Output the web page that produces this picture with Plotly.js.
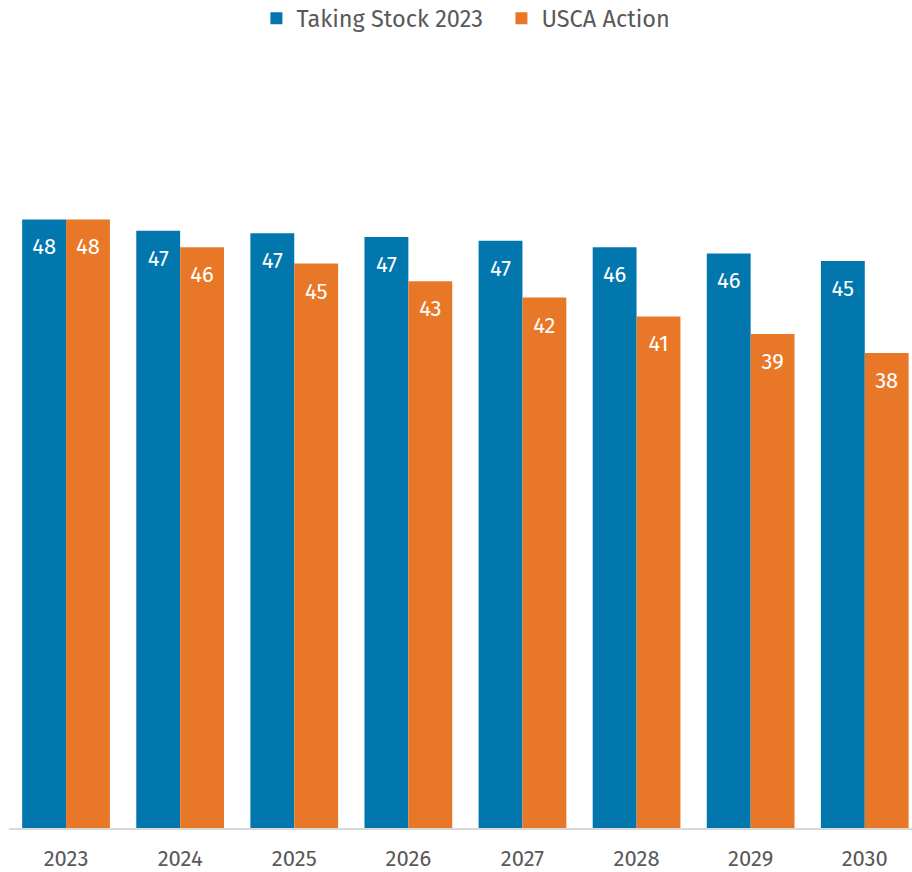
<!DOCTYPE html>
<html>
<head>
<meta charset="utf-8">
<script src="https://cdn.plot.ly/plotly-3.0.1.min.js"></script>
<style>html,body{margin:0;padding:0;background:#fff;}#chart{width:912px;height:872px;}</style>
</head>
<body>
<div id="chart"></div>
<script>
const years = ['2023','2024','2025','2026','2027','2028','2029','2030'];
const takingStock = [48.3, 47.4, 47.2, 46.9, 46.6, 46.1, 45.6, 45.0];
const uscaAction = [48.3, 46.1, 44.8, 43.4, 42.1, 40.6, 39.2, 37.7];
const seriesNames = ['Taking Stock 2023', 'USCA Action'];
const colors = ['#0277ad', '#e87828'];

const FONT = '"Fira Sans", "Open Sans", "Noto Sans", sans-serif';

function barTrace(name, vals, color, grp) {
  return {
    type: 'bar', name: name, x: years, y: vals,
    marker: {color: color, line: {width: 0}},
    offsetgroup: grp, hoverinfo: 'x+y+name'
  };
}
function labelTrace(vals, grp) {
  return {
    type: 'scatter', mode: 'markers+text', x: years, y: vals,
    offsetgroup: grp, showlegend: false, hoverinfo: 'skip',
    marker: {size: 28, opacity: 0},
    texttemplate: '%{y:.0f}', textposition: 'bottom center',
    textfont: {family: FONT, size: 22, color: '#ffffff'}
  };
}

const data = [
  barTrace(seriesNames[0], takingStock, colors[0], 'a'),
  barTrace(seriesNames[1], uscaAction, colors[1], 'b'),
  labelTrace(takingStock, 'a'),
  labelTrace(uscaAction, 'b')
];

const layout = {
  width: 912, height: 872,
  margin: {l: 9, r: 0, t: 72, b: 44, autoexpand: false},
  paper_bgcolor: '#ffffff', plot_bgcolor: '#ffffff',
  barmode: 'group', bargap: 0.231, bargroupgap: 0,
  scattermode: 'group', scattergap: 0.231,
  font: {family: FONT, size: 22, color: '#595959'},
  showlegend: true,
  legend: {
    orientation: 'h', x: 0.274, xanchor: 'left', y: 1.1, yanchor: 'top',
    entrywidth: 200, entrywidthmode: 'pixels',
    font: {family: FONT, size: 23.5, color: '#595959'},
    traceorder: 'normal'
  },
  xaxis: {
    type: 'category', range: [-0.5, 7.414], fixedrange: true,
    showline: true, linecolor: '#d9d9d9', linewidth: 2,
    ticks: '', showgrid: false, zeroline: false,
    ticklabelstandoff: 10,
    tickfont: {family: FONT, size: 22, color: '#595959'}
  },
  yaxis: {
    range: [0, 60], visible: false, fixedrange: true,
    showgrid: false, zeroline: false
  }
};

Plotly.newPlot('chart', data, layout, {displayModeBar: false, staticPlot: true});
</script>
</body>
</html>
